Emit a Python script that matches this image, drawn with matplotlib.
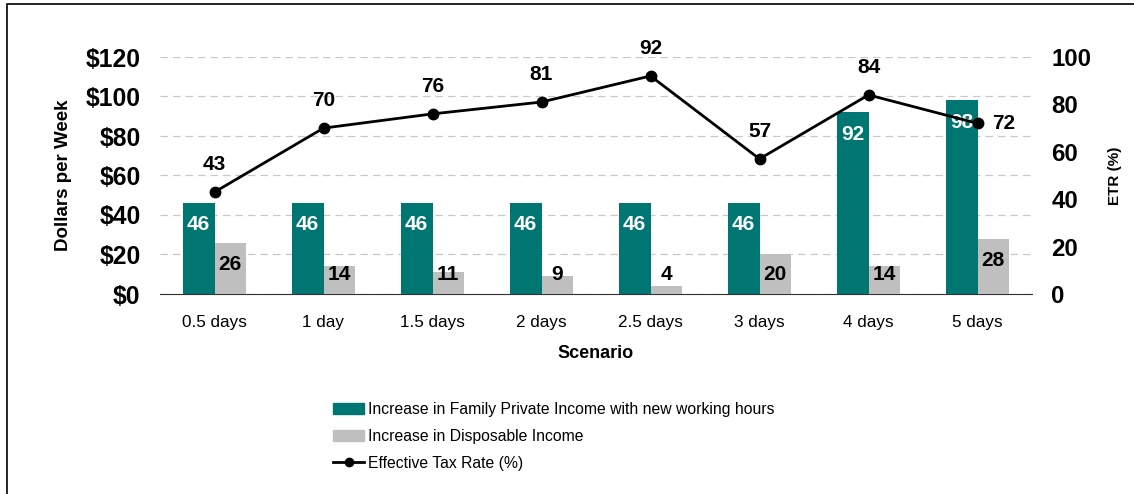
import matplotlib
matplotlib.use("Agg")
import matplotlib.pyplot as plt
from matplotlib.patches import Rectangle
from matplotlib.lines import Line2D
import numpy as np

plt.rcParams['font.family'] = ['Liberation Sans', 'DejaVu Sans']

scenarios = ["0.5 days", "1 day", "1.5 days", "2 days", "2.5 days", "3 days", "4 days", "5 days"]
private_income = [46, 46, 46, 46, 46, 46, 92, 98]
disposable_income = [26, 14, 11, 9, 4, 20, 14, 28]
etr = [43, 70, 76, 81, 92, 57, 84, 72]

TEAL = "#007672"
GREY = "#BFBFBF"

fig = plt.figure(figsize=(11.34, 4.94), dpi=100)
ax = fig.add_axes([160 / 1134, 1 - 294 / 494, 872 / 1134, 237 / 494])
ax2 = ax.twinx()

x = np.arange(len(scenarios))
w = 0.29
ax.bar(x - w / 2, private_income, w, color=TEAL, zorder=3)
ax.bar(x + w / 2, disposable_income, w, color=GREY, zorder=3)

# value labels inside bar tops (pushed up for short bars)
for xi, v in zip(x, private_income):
    ax.text(xi - w / 2, max(v - 11, 10), str(v), ha='center', va='center',
            color='white', fontsize=15, fontweight='bold', zorder=5)
for xi, v in zip(x, disposable_income):
    ax.text(xi + w / 2, max(v - 11, 10), str(v), ha='center', va='center',
            color='black', fontsize=15, fontweight='bold', zorder=5)

ax.set_xlim(-0.5, len(scenarios) - 0.5)
ax.set_ylim(0, 120)
ax.set_yticks(range(0, 121, 20))
ax.set_yticklabels([f"${v}" for v in range(0, 121, 20)])
ax.yaxis.grid(True, linestyle=(0, (6, 4)), color='#C8C8C8', linewidth=0.9, zorder=0)
ax.set_axisbelow(True)
ax.set_xticks(x)
ax.set_xticklabels(scenarios, fontsize=12.3)
ax.tick_params(axis='x', length=0, pad=15)
ax.tick_params(axis='y', length=0, labelsize=17.8, pad=14)
for lab in ax.get_yticklabels():
    lab.set_fontweight('bold')
for s in ['top', 'right', 'left']:
    ax.spines[s].set_visible(False)
ax.spines['bottom'].set_color('#333333')
ax.set_xlabel("Scenario", fontsize=13, fontweight='bold', labelpad=11)
ax.set_ylabel("Dollars per Week", fontsize=13.5, fontweight='bold', labelpad=10)

ax2.plot(x, etr, color='black', linewidth=2, marker='o', markersize=7.5, zorder=6)
ax2.set_ylim(0, 100)
ax2.set_yticks(range(0, 101, 20))
ax2.tick_params(axis='y', length=0, labelsize=17.3, pad=14)
for lab in ax2.get_yticklabels():
    lab.set_fontweight('bold')
for s in ax2.spines.values():
    s.set_visible(False)
ax2.set_ylabel("ETR (%)", fontsize=11, fontweight='bold', labelpad=12)

for i, (xi, v) in enumerate(zip(x, etr)):
    if i == len(etr) - 1:
        ax2.annotate(str(v), (xi, v), xytext=(19, 0), textcoords='offset points',
                     ha='center', va='center', fontsize=15, fontweight='bold')
    else:
        ax2.annotate(str(v), (xi, v), xytext=(0, 20), textcoords='offset points',
                     ha='center', va='center', fontsize=15, fontweight='bold')

handles = [
    Rectangle((0, 0), 1, 1, color=TEAL),
    Rectangle((0, 0), 1, 1, color=GREY),
    Line2D([0], [0], color='black', linewidth=2, marker='o', markersize=6),
]
labels = ["Increase in Family Private Income with new working hours",
          "Increase in Disposable Income",
          "Effective Tax Rate (%)"]
fig.legend(handles, labels, loc='upper left', bbox_to_anchor=(333 / 1134, 1 - 402 / 494),
           frameon=False, fontsize=11.3, handlelength=2.0, handletextpad=0.25,
           labelspacing=0.75, borderpad=0, borderaxespad=0)

# outer frame
fig.add_artist(Rectangle((7 / 1134, -0.02), 1.1, 1 - 4 / 494 + 0.02, transform=fig.transFigure,
                         fill=False, edgecolor='black', linewidth=1.2))

fig.savefig("out.png", dpi=100)
